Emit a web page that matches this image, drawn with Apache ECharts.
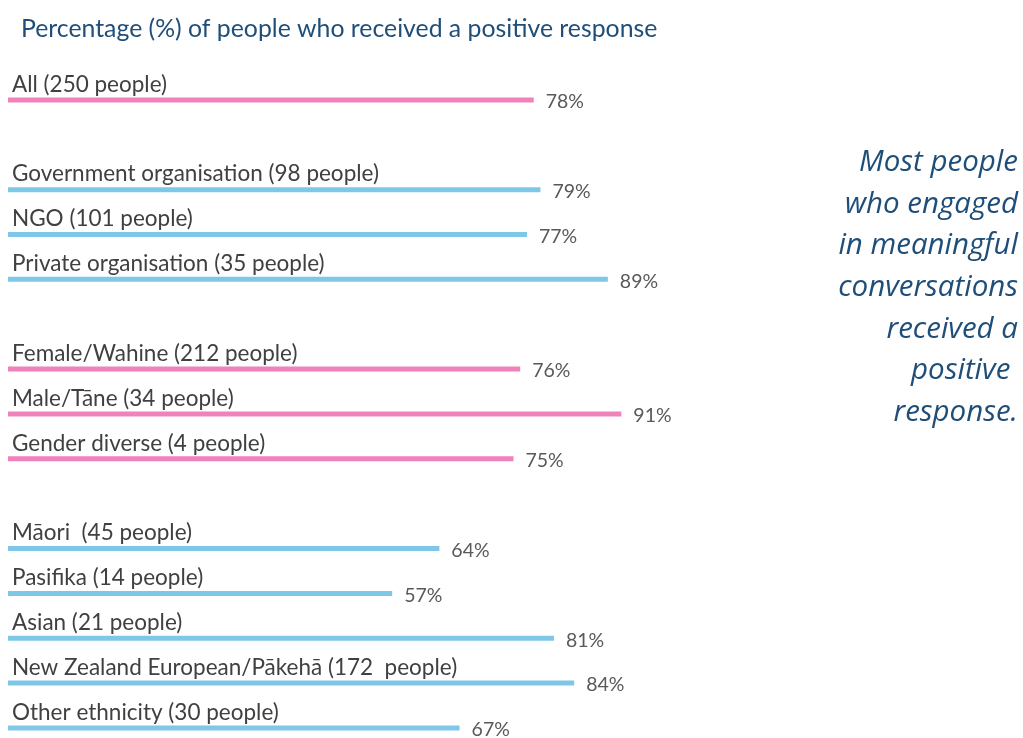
<!DOCTYPE html>
<html>
<head>
<meta charset="utf-8">
<title>Positive response</title>
<script src="https://cdn.jsdelivr.net/npm/echarts@6/dist/echarts.min.js"></script>
<style>
  html, body { margin: 0; padding: 0; background: #fff; }
  #main { width: 1023px; height: 738px; }
</style>
</head>
<body>
<div id="main"></div>
<script type="text/javascript">
// empty strings are the spacer rows between the groups
const categories = [
  'All (250 people)', '',
  'Government organisation (98 people)', 'NGO (101 people)', 'Private organisation (35 people)', '',
  'Female/Wahine (212 people)', 'Male/Tāne (34 people)', 'Gender diverse (4 people)', '',
  'Māori  (45 people)', 'Pasifika (14 people)', 'Asian (21 people)',
  'New Zealand European/Pākehā (172  people)', 'Other ethnicity (30 people)'
];
const percents = [78, null, 79, 77, 89, null, 76, 91, 75, null, 64, 57, 81, 84, 67];
const groupOf = ['all', null, 'org', 'org', 'org', null, 'gender', 'gender', 'gender', null,
  'eth', 'eth', 'eth', 'eth', 'eth'];
const sideNote = ['Most people', 'who engaged', 'in meaningful', 'conversations', 'received a', 'positive ', 'response.'];

const pink = '#ef82bb', blue = '#7fc7e7';
const colours = { all: pink, org: blue, gender: pink, eth: blue };

const myChart = echarts.init(document.getElementById('main'), null, { width: 1023, height: 738 });

const option = {
  backgroundColor: '#fff',
  animation: false,
  title: {
    text: 'Percentage (%) of people who received a positive response',
    left: 16, top: 12,
    textStyle: { fontFamily: 'Lato', fontSize: 24.8, fontWeight: 'normal', color: '#1f4e79' }
  },
  grid: { left: 8, right: 341, top: 77.5, height: 672.9, outerBoundsMode: 'none' },
  xAxis: { type: 'value', min: 0, max: 100, show: false },
  yAxis: {
    type: 'category',
    inverse: true,
    data: categories,
    axisLine: { show: false },
    axisTick: { show: false },
    axisLabel: {
      inside: true, margin: 4, interval: 0,
      align: 'left', verticalAlign: 'bottom',
      lineHeight: 31,
      fontFamily: 'Lato', fontSize: 22.5, color: '#404040'
    }
  },
  series: [{
    type: 'bar',
    barWidth: 5,
    data: percents.map((v, i) => v == null ? null : {
      value: v, itemStyle: { color: colours[groupOf[i]] }
    }),
    label: {
      show: true, position: 'right', distance: 12, offset: [0, 2],
      formatter: p => p.value + '%',
      fontFamily: 'Lato', fontSize: 19.5, color: '#595959'
    }
  }],
  graphic: [{
    type: 'text',
    x: 1018, y: 142,
    style: {
      text: sideNote.join('\n'),
      align: 'right',
      font: 'italic 29.5px "Open Sans"',
      lineHeight: 41.6,
      fill: '#1f4e79'
    }
  }]
};
myChart.setOption(option);
</script>
</body>
</html>
